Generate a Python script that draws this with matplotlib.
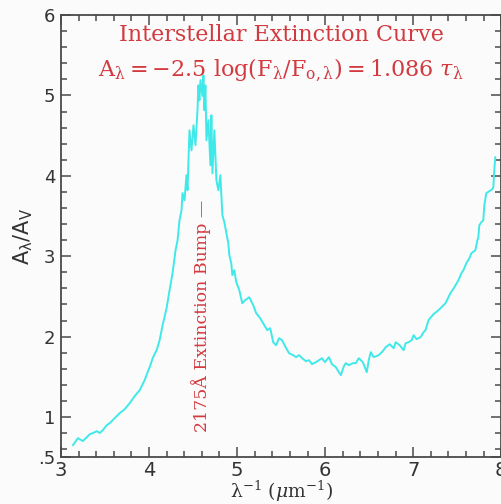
import matplotlib
matplotlib.use('Agg')
import matplotlib.pyplot as plt
from matplotlib.ticker import MultipleLocator, FixedLocator, FuncFormatter

# inverse wavelength (1/micron) and A_lambda / A_V
wavenum = [
    3.136, 3.192, 3.249, 3.294, 3.328, 3.362, 3.407, 3.441, 3.475, 3.520,
    3.554, 3.611, 3.667, 3.724, 3.781, 3.837, 3.894, 3.928, 3.950, 3.984,
    4.007, 4.041, 4.086, 4.120, 4.154, 4.199, 4.233, 4.267, 4.301, 4.324,
    4.346, 4.369, 4.380, 4.403, 4.425, 4.437, 4.459, 4.482, 4.505, 4.527,
    4.550, 4.561, 4.572, 4.584, 4.606, 4.618, 4.629, 4.640, 4.652, 4.674,
    4.697, 4.708, 4.720, 4.742, 4.765, 4.787, 4.810, 4.833, 4.855, 4.878,
    4.900, 4.912, 4.934, 4.946, 4.968, 4.991, 5.025, 5.059, 5.093, 5.138,
    5.183, 5.217, 5.262, 5.308, 5.342, 5.376, 5.410, 5.443, 5.477, 5.511,
    5.557, 5.590, 5.636, 5.670, 5.704, 5.738, 5.783, 5.817, 5.851, 5.896,
    5.930, 5.964, 5.998, 6.043, 6.077, 6.122, 6.156, 6.179, 6.213, 6.235,
    6.269, 6.314, 6.348, 6.382, 6.428, 6.473, 6.495, 6.518, 6.552, 6.609,
    6.654, 6.688, 6.733, 6.778, 6.801, 6.846, 6.891, 6.914, 6.948, 6.982,
    7.005, 7.038, 7.084, 7.118, 7.140, 7.174, 7.231, 7.287, 7.333, 7.367,
    7.400, 7.423, 7.468, 7.514, 7.548, 7.570, 7.604, 7.638, 7.661, 7.706,
    7.729, 7.740, 7.751, 7.774, 7.796, 7.808, 7.830, 7.864, 7.898, 7.910,
    7.921, 7.932,
]
extinction = [
    0.649, 0.736, 0.700, 0.749, 0.786, 0.799, 0.823, 0.800, 0.836, 0.898,
    0.923, 0.985, 1.047, 1.097, 1.172, 1.259, 1.333, 1.408, 1.458, 1.557,
    1.619, 1.731, 1.831, 1.955, 2.142, 2.353, 2.577, 2.789, 3.075, 3.199,
    3.448, 3.572, 3.784, 3.697, 4.007, 3.821, 4.567, 4.318, 4.629, 4.381,
    4.816, 5.127, 4.940, 5.189, 4.995, 5.251, 4.816, 5.127, 4.443, 4.692,
    4.132, 4.754, 4.032, 4.567, 3.945, 3.821, 4.007, 3.510, 3.423, 3.286,
    3.162, 3.012, 2.913, 2.764, 2.826, 2.677, 2.577, 2.415, 2.453, 2.490,
    2.391, 2.291, 2.229, 2.142, 2.080, 2.104, 1.930, 1.893, 1.980, 1.955,
    1.856, 1.794, 1.769, 1.744, 1.769, 1.731, 1.694, 1.706, 1.657, 1.682,
    1.706, 1.731, 1.682, 1.744, 1.657, 1.619, 1.557, 1.520, 1.632, 1.669,
    1.644, 1.669, 1.669, 1.731, 1.682, 1.557, 1.706, 1.806, 1.744, 1.769,
    1.818, 1.868, 1.905, 1.856, 1.930, 1.893, 1.831, 1.918, 1.930, 1.955,
    2.017, 1.968, 1.993, 2.055, 2.080, 2.204, 2.279, 2.328, 2.378, 2.415,
    2.490, 2.540, 2.614, 2.701, 2.789, 2.826, 2.913, 2.975, 3.037, 3.075,
    3.199, 3.236, 3.386, 3.423, 3.448, 3.634, 3.784, 3.809, 3.833, 3.858,
    4.070, 4.231,
]
y_major = [0.5, 1, 2, 3, 4, 5, 6]

red = '#d23a3f'
cyan = '#3fe9e9'
axis_col = '#4a4a4a'

fig = plt.figure(figsize=(5.02, 5.04), dpi=100)
fig.patch.set_facecolor('#fbfbfb')
ax = fig.add_axes([0.1215, 0.093, 0.877, 0.877])
ax.set_facecolor('#fbfbfb')

ax.plot(wavenum, extinction, color=cyan, lw=1.4)

ax.set_xlim(3, 8)
ax.set_ylim(0.5, 6)

ax.xaxis.set_major_locator(MultipleLocator(1))
ax.xaxis.set_minor_locator(MultipleLocator(0.2))
ax.yaxis.set_major_locator(FixedLocator(y_major))
ax.yaxis.set_minor_locator(MultipleLocator(0.2))
ax.yaxis.set_major_formatter(FuncFormatter(lambda v, p: '.5' if v == 0.5 else f'{v:.0f}'))

ax.tick_params(which='both', direction='in', top=True, right=True, color=axis_col, width=1.1)
ax.tick_params(which='major', length=7)
ax.tick_params(which='minor', length=4)
ax.tick_params(axis='x', labelsize=14, pad=3, labelcolor='#333333')
ax.tick_params(axis='y', labelsize=13, pad=4, labelcolor='#333333')
for s in ax.spines.values():
    s.set_color(axis_col)
    s.set_linewidth(1.3)

ax.set_xlabel(r'$\mathrm{\lambda}^{-1}$ ($\mu$m$^{-1}$)', fontsize=13.5, family='DejaVu Serif',
              math_fontfamily='dejavuserif', color='#333333', labelpad=-1)
ax.set_ylabel(r'$\mathrm{A}_\mathrm{\lambda}/\mathrm{A}_\mathrm{V}$', fontsize=15,
              color='#333333', labelpad=2)

ax.text(0.5, 0.955, 'Interstellar Extinction Curve', transform=ax.transAxes,
        ha='center', va='center', fontsize=16, color=red, family='DejaVu Serif')
ax.text(0.5, 0.875,
        r'$\mathrm{A}_\mathrm{\lambda} = -2.5\ \mathrm{log}(\mathrm{F}_\mathrm{\lambda}/\mathrm{F}_{\mathrm{o},\mathrm{\lambda}}) = 1.086\ \tau_\mathrm{\lambda}$',
        transform=ax.transAxes, ha='center', va='center', fontsize=16, color=red,
        math_fontfamily='dejavuserif')
ax.text(4.59, 0.81, '2175Å Extinction Bump —', rotation=90, ha='center', va='bottom',
        fontsize=12.5, color=red, family='DejaVu Serif')

fig.savefig('out.png', dpi=100, facecolor=fig.get_facecolor())
